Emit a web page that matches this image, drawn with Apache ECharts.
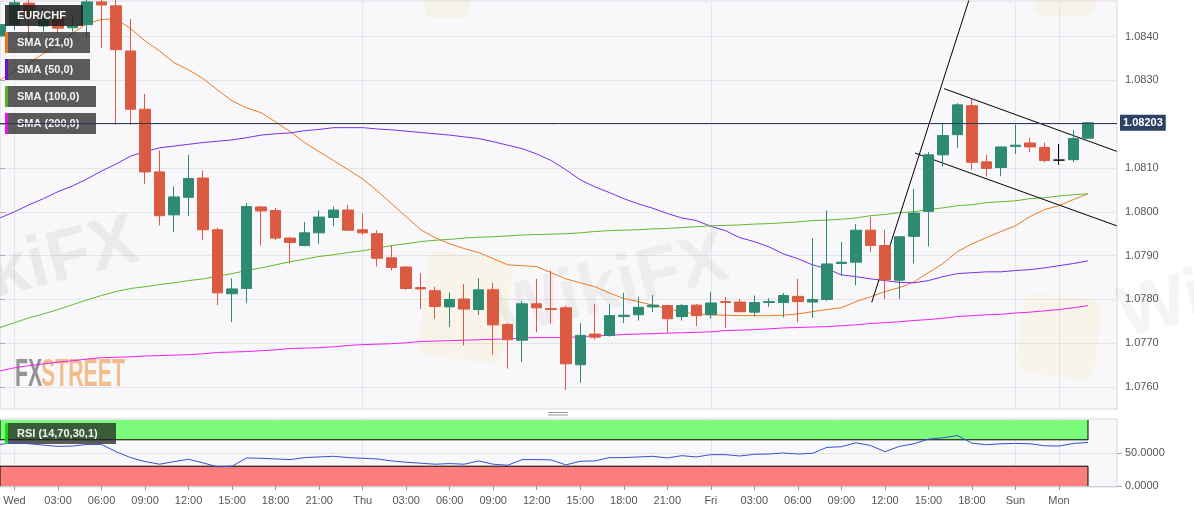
<!DOCTYPE html>
<html><head><meta charset="utf-8">
<script src="https://cdn.jsdelivr.net/npm/echarts@6/dist/echarts.min.js"></script>
<style>html,body{margin:0;padding:0;background:#fff}#c{width:1194px;height:513px}</style>
</head><body><div id="c"></div>
<script>
// ---------- DATA ----------
const categories = ['Tue 23:00',
'Wed 00:00','Wed 01:00','Wed 02:00','Wed 03:00','Wed 04:00','Wed 05:00','Wed 06:00','Wed 07:00','Wed 08:00','Wed 09:00','Wed 10:00','Wed 11:00',
'Wed 12:00','Wed 13:00','Wed 14:00','Wed 15:00','Wed 16:00','Wed 17:00','Wed 18:00','Wed 19:00','Wed 20:00','Wed 21:00','Wed 22:00','Wed 23:00',
'Thu 00:00','Thu 01:00','Thu 02:00','Thu 03:00','Thu 04:00','Thu 05:00','Thu 06:00','Thu 07:00','Thu 08:00','Thu 09:00','Thu 10:00','Thu 11:00',
'Thu 12:00','Thu 13:00','Thu 14:00','Thu 15:00','Thu 16:00','Thu 17:00','Thu 18:00','Thu 19:00','Thu 20:00','Thu 21:00','Thu 22:00','Thu 23:00',
'Fri 00:00','Fri 01:00','Fri 02:00','Fri 03:00','Fri 04:00','Fri 05:00','Fri 06:00','Fri 07:00','Fri 08:00','Fri 09:00','Fri 10:00','Fri 11:00',
'Fri 12:00','Fri 13:00','Fri 14:00','Fri 15:00','Fri 16:00','Fri 17:00','Fri 18:00','Fri 19:00','Fri 20:00',
'Sun 21:00','Sun 22:00','Sun 23:00','Mon 00:00','Mon 01:00','Mon 02:00','Mon 03:00','Mon 04:00'];

const xTickLabels = [[1,'Wed'],[4,'03:00'],[7,'06:00'],[10,'09:00'],[13,'12:00'],[16,'15:00'],[19,'18:00'],[22,'21:00'],
[25,'Thu'],[28,'03:00'],[31,'06:00'],[34,'09:00'],[37,'12:00'],[40,'15:00'],[43,'18:00'],[46,'21:00'],
[49,'Fri'],[52,'03:00'],[55,'06:00'],[58,'09:00'],[61,'12:00'],[64,'15:00'],[67,'18:00'],[70,'Sun'],[73,'Mon']];
const dayGridIdx = [1, 25, 49, 70, 73];

const yTicks = [1.0760, 1.0770, 1.0780, 1.0790, 1.0800, 1.0810, 1.0820, 1.0830, 1.0840];
const rsiTicks = [0, 50];

// [open, high, low, close]
const candles = [
[1.08402,1.08434,1.08392,1.08427],[1.08427,1.08484,1.08415,1.08477],[1.08476,1.08486,1.08388,1.08445],[1.08424,1.08449,1.08411,1.08438],
[1.08442,1.08449,1.08408,1.08419],[1.08420,1.08445,1.08411,1.08424],[1.08427,1.08488,1.08399,1.08479],[1.08479,1.08490,1.08374,1.08472],
[1.08470,1.08486,1.08199,1.08370],[1.08367,1.08440,1.08199,1.08234],[1.08234,1.08269,1.08064,1.08091],[1.08091,1.08140,1.07969,1.07991],
[1.07993,1.08058,1.07954,1.08034],[1.08033,1.08130,1.07990,1.08076],[1.08077,1.08094,1.07935,1.07959],[1.07959,1.07964,1.07787,1.07815],
[1.07813,1.07848,1.07748,1.07824],[1.07825,1.08020,1.07792,1.08012],[1.08011,1.08014,1.07923,1.08002],[1.08003,1.08009,1.07935,1.07940],
[1.07940,1.07943,1.07882,1.07930],[1.07923,1.07977,1.07921,1.07952],[1.07952,1.08003,1.07927,1.07988],[1.07987,1.08012,1.07967,1.08004],
[1.08004,1.08016,1.07957,1.07958],[1.07959,1.07996,1.07947,1.07952],[1.07950,1.07958,1.07875,1.07894],[1.07895,1.07923,1.07866,1.07873],
[1.07874,1.07876,1.07822,1.07825],[1.07827,1.07860,1.07778,1.07824],[1.07820,1.07829,1.07756,1.07784],[1.07783,1.07816,1.07737,1.07800],
[1.07801,1.07835,1.07695,1.07778],[1.07777,1.07849,1.07765,1.07822],[1.07822,1.07838,1.07674,1.07742],[1.07743,1.07746,1.07642,1.07708],
[1.07707,1.07796,1.07657,1.07790],[1.07790,1.07847,1.07725,1.07781],[1.07779,1.07866,1.07745,1.07777],[1.07781,1.07786,1.07593,1.07653],
[1.07651,1.07746,1.07610,1.07718],[1.07721,1.07790,1.07708,1.07714],[1.07718,1.07790,1.07715,1.07763],[1.07761,1.07815,1.07746,1.07764],
[1.07765,1.07806,1.07752,1.07782],[1.07783,1.07810,1.07771,1.07787],[1.07786,1.07788,1.07724,1.07756],[1.07761,1.07790,1.07752,1.07786],
[1.07787,1.07790,1.07739,1.07763],[1.07765,1.07817,1.07756,1.07792],[1.07795,1.07806,1.07735,1.07793],[1.07794,1.07801,1.07771,1.07772],
[1.07771,1.07809,1.07761,1.07793],[1.07793,1.07803,1.07783,1.07795],[1.07793,1.07815,1.07759,1.07809],[1.07807,1.07847,1.07748,1.07795],
[1.07794,1.07940,1.07758,1.07800],[1.07800,1.08003,1.07796,1.07881],[1.07882,1.07931,1.07854,1.07885],[1.07885,1.07972,1.07832,1.07958],
[1.07958,1.07988,1.07908,1.07923],[1.07923,1.07959,1.07801,1.07845],[1.07844,1.07945,1.07801,1.07943],[1.07944,1.08052,1.07882,1.07997],
[1.08001,1.08137,1.07921,1.08130],[1.08130,1.08201,1.08104,1.08174],[1.08176,1.08248,1.08146,1.08244],[1.08242,1.08258,1.08096,1.08113],
[1.08114,1.08130,1.08081,1.08099],[1.08101,1.08149,1.08081,1.08148],[1.08149,1.08199,1.08132,1.08152],[1.08157,1.08169,1.08136,1.08148],
[1.08147,1.08158,1.08113,1.08117],[1.08118,1.08155,1.08107,1.08118],[1.08119,1.08186,1.08113,1.08167],[1.08168,1.08204,1.08166,1.08203]
];

const sma21 = [1.08301,1.08320,1.08340,1.08361,1.08383,1.08408,1.08429,1.08439,1.08440,1.08418,
1.08390,1.08367,1.08340,1.08324,1.08304,1.08278,1.08253,1.08237,1.08226,1.08205,
1.08183,1.08158,1.08137,1.08117,1.08096,1.08075,1.08048,1.08018,1.07989,1.07959,
1.07941,1.07927,1.07916,1.07907,1.07893,1.07879,1.07877,1.07875,1.07861,1.07847,
1.07838,1.07829,1.07815,1.07802,1.07795,1.07787,1.07779,1.07771,1.07767,1.07765,
1.07764,1.07763,1.07763,1.07763,1.07764,1.07767,1.07772,1.07777,1.07781,1.07795,
1.07806,1.07818,1.07827,1.07840,1.07861,1.07882,1.07909,1.07927,1.07941,1.07955,
1.07968,1.07989,1.08005,1.08014,1.08028,1.08041];

const sma50 = [1.07986,1.08000,1.08016,1.08030,1.08046,1.08059,1.08075,1.08093,1.08109,1.08127,
1.08137,1.08146,1.08150,1.08154,1.08158,1.08161,1.08164,1.08169,1.08175,1.08178,
1.08180,1.08185,1.08188,1.08192,1.08192,1.08192,1.08189,1.08187,1.08184,1.08181,
1.08178,1.08175,1.08171,1.08167,1.08160,1.08152,1.08144,1.08132,1.08117,1.08096,
1.08073,1.08057,1.08044,1.08030,1.08018,1.08008,1.07996,1.07986,1.07980,1.07967,
1.07957,1.07941,1.07932,1.07920,1.07904,1.07893,1.07879,1.07870,1.07856,1.07852,
1.07847,1.07843,1.07839,1.07838,1.07843,1.07852,1.07859,1.07861,1.07863,1.07863,
1.07866,1.07868,1.07872,1.07877,1.07882,1.07888];

const sma100 = [1.07736,1.07747,1.07758,1.07767,1.07777,1.07788,1.07799,1.07809,1.07818,1.07825,
1.07829,1.07834,1.07838,1.07843,1.07847,1.07853,1.07859,1.07866,1.07872,1.07879,
1.07886,1.07892,1.07898,1.07902,1.07907,1.07911,1.07917,1.07923,1.07927,1.07932,
1.07935,1.07937,1.07940,1.07942,1.07943,1.07945,1.07947,1.07948,1.07949,1.07950,
1.07952,1.07955,1.07957,1.07958,1.07959,1.07961,1.07962,1.07964,1.07966,1.07968,
1.07969,1.07970,1.07972,1.07973,1.07975,1.07977,1.07980,1.07981,1.07983,1.07986,
1.07991,1.07994,1.07998,1.08000,1.08005,1.08009,1.08014,1.08016,1.08021,1.08023,
1.08025,1.08030,1.08032,1.08036,1.08039,1.08041];

const sma200 = [1.07637,1.07644,1.07649,1.07653,1.07657,1.07660,1.07664,1.07667,1.07668,1.07669,
1.07671,1.07672,1.07673,1.07674,1.07676,1.07679,1.07680,1.07681,1.07683,1.07685,
1.07688,1.07689,1.07690,1.07692,1.07695,1.07697,1.07698,1.07699,1.07701,1.07704,
1.07705,1.07706,1.07707,1.07708,1.07709,1.07710,1.07712,1.07713,1.07713,1.07713,
1.07715,1.07717,1.07718,1.07720,1.07721,1.07722,1.07723,1.07724,1.07725,1.07726,
1.07729,1.07730,1.07731,1.07733,1.07735,1.07736,1.07737,1.07738,1.07740,1.07742,
1.07745,1.07747,1.07749,1.07752,1.07754,1.07757,1.07761,1.07763,1.07765,1.07766,
1.07769,1.07771,1.07774,1.07777,1.07781,1.07786];

const rsi = [63,66,64,62,60,60.5,63,63,52,43,37,33,37,40.5,35,29,30,42.5,42,41,
40,43,44,45,43,42,41,38,36,34.5,33,34,33,38,33,31.5,40,40,39.5,32,
37.5,38,43,43,44,45,42.5,46,44,47.5,47.5,45.5,48,48.5,50,48.5,49.5,58.5,59.5,65.5,
61.5,52,60,64,71,73,76.5,65,62.5,64,64.5,64,61,60.5,64.5,66];
const rsiUpper = 70, rsiLower = 30, rsiMax = 100, rsiMin = 0;

// hand-drawn trend lines: [category position, price]
const trendSteep = [[60.09,1.07793],[67.21,1.08526]];
const channelTop = [[65.08,1.08281],[76.98,1.08138]];
const channelBottom = [[63.08,1.08134],[76.98,1.07968]];

// ---------- CHART ----------
const UP = '#2e8a72', DOWN = '#db5a42';
const FONT = '"Liberation Sans", Arial, sans-serif';
const tickMap = {}; xTickLabels.forEach(([k,l]) => { tickMap[k] = l; });
const daySet = new Set(dayGridIdx);
const lastIdx = candles.length - 1;
const lastClose = candles[lastIdx][3];
const PLOT_W = 1117;

const candleData = candles.map(([o,h,l,c]) => o === c
  ? {value:[o,c,l,h], itemStyle:{color:'#000',color0:'#000',borderColor:'#000',borderColor0:'#000'}}
  : [o,c,l,h]);
const idx = (arr) => arr.map((v,i) => [i, v]);

const grey = '#e4e4ea';
const chart = echarts.init(document.getElementById('c'));

function legendBox(y, w, label, barColor, fill){
  const els = [
    {type:'rect', z:3, shape:{x:5, y:y, width:w, height:21}, style:{fill:fill}},
    {type:'text', z:4, style:{x:17, y:y+10.5, text:label, fill:'#f2f2f2', font:'bold 11px '+FONT, verticalAlign:'middle'}}
  ];
  if (barColor) els.push({type:'rect', z:4, shape:{x:5, y:y, width:3, height:21}, style:{fill:barColor}});
  return els;
}

const graphics = [].concat(
  legendBox(5, 78, 'EUR/CHF', null, 'rgba(30,30,30,0.86)'),
  legendBox(32, 85, 'SMA (21,0)', '#e8771f', 'rgba(45,45,45,0.78)'),
  legendBox(59, 85, 'SMA (50,0)', '#6611cc', 'rgba(45,45,45,0.78)'),
  legendBox(86, 91, 'SMA (100,0)', '#55b022', 'rgba(45,45,45,0.78)'),
  legendBox(113, 91, 'SMA (200,0)', '#ee11ee', 'rgba(45,45,45,0.78)'),
  [
    {type:'rect', z:3, shape:{x:5, y:423, width:111, height:21}, style:{fill:'rgba(30,30,30,0.72)'}},
    {type:'rect', z:4, shape:{x:5, y:423, width:3, height:21}, style:{fill:'#16d916'}},
    {type:'text', z:4, style:{x:17, y:433.5, text:'RSI (14,70,30,1)', fill:'#f2f2f2', font:'bold 11px '+FONT, verticalAlign:'middle'}},
    // FXStreet watermark
    {type:'text', z:1, x:15, y:376, scaleX:0.56, style:{x:0, y:0, text:'FX', fill:'rgba(130,130,130,0.85)', font:'bold 38px '+FONT, verticalAlign:'middle'}},
    {type:'text', z:1, x:41, y:376, scaleX:0.56, style:{x:0, y:0, text:'STREET', fill:'rgba(240,170,100,0.75)', font:'bold 38px '+FONT, verticalAlign:'middle'}},
    // WikiFX watermarks
    {type:'text', z:1, x:-95, y:300, rotation:0.25, style:{x:0, y:0, text:'WikiFX', fill:'rgba(120,110,110,0.10)', font:'bold 72px '+FONT, verticalAlign:'middle'}},
    {type:'text', z:1, x:495, y:318, rotation:0.25, style:{x:0, y:0, text:'WikiFX', fill:'rgba(120,110,110,0.08)', font:'bold 72px '+FONT, verticalAlign:'middle'}},
    {type:'rect', z:1, x:430, y:250, rotation:-0.12, shape:{x:0, y:0, width:85, height:105, r:12}, style:{fill:'rgba(245,215,120,0.13)'}},
    {type:'rect', z:1, x:1025, y:292, rotation:-0.12, shape:{x:0, y:0, width:78, height:80, r:12}, style:{fill:'rgba(245,215,120,0.13)'}},
    {type:'text', z:1, x:1120, y:318, rotation:0.25, style:{x:0, y:0, text:'Wi', fill:'rgba(120,110,110,0.08)', font:'bold 72px '+FONT, verticalAlign:'middle'}},
    {type:'rect', z:1, x:425, y:-20, shape:{x:0, y:0, width:45, height:38, r:8}, style:{fill:'rgba(245,215,120,0.12)'}},
    {type:'rect', z:1, x:1035, y:-20, shape:{x:0, y:0, width:60, height:36, r:8}, style:{fill:'rgba(245,215,120,0.12)'}},
    // splitter handle
    {type:'line', z:4, shape:{x1:548, y1:412.5, x2:568, y2:412.5}, style:{stroke:'#9a9a9a', lineWidth:1}},
    {type:'line', z:4, shape:{x1:548, y1:415, x2:568, y2:415}, style:{stroke:'#9a9a9a', lineWidth:1}}
  ]
);

const smaSeries = (name, data, color) => ({
  type:'line', name, data, xAxisIndex:0, yAxisIndex:0, symbol:'none', silent:true, z:2,
  lineStyle:{color, width:1}
});
const trendSeries = (data, extra) => Object.assign({
  type:'line', data, xAxisIndex:2, yAxisIndex:0, symbol:'none', silent:true, z:2,
  lineStyle:{color:'#000', width:1}
}, extra || {});

const option = {
  animation:false,
  backgroundColor:'#ffffff',
  textStyle:{fontFamily:FONT},
  grid:[
    {left:0, top:1, width:PLOT_W, height:408, show:true, backgroundColor:'#f8f8fa', borderColor:'#d6d6df', borderWidth:1},
    {left:0, top:419, width:PLOT_W, height:68, show:true, backgroundColor:'#f8f8fa', borderColor:'#d6d6df', borderWidth:1}
  ],
  xAxis:[
    {type:'category', gridIndex:0, data:categories, boundaryGap:false,
     axisLine:{show:false}, axisTick:{show:false}, axisLabel:{show:false},
     splitLine:{show:true, interval:(i)=>daySet.has(i), lineStyle:{color:grey}}},
    {type:'category', gridIndex:1, data:categories, boundaryGap:false,
     axisLine:{show:true, lineStyle:{color:'#cfcfd8'}},
     axisTick:{show:true, interval:(i)=>tickMap[i]!==undefined, length:4, lineStyle:{color:'#999'}},
     axisLabel:{show:true, interval:(i)=>tickMap[i]!==undefined, formatter:(v,i)=>tickMap[i]||'', color:'#555', fontSize:11, margin:8},
     splitLine:{show:true, interval:(i)=>daySet.has(i), lineStyle:{color:grey}}},
    {type:'value', gridIndex:0, min:0, max:categories.length-1, show:false}
  ],
  yAxis:[
    {type:'value', gridIndex:0, position:'right', min:1.0755, max:1.08481,
     axisLine:{show:false},
     axisTick:{show:true, length:5, lineStyle:{color:'#aaa'}, customValues:yTicks},
     axisLabel:{color:'#555', fontSize:11, margin:8, formatter:(v)=>v.toFixed(4), customValues:yTicks},
     splitLine:{show:true, lineStyle:{color:grey}}},
    {type:'value', gridIndex:1, position:'right', min:-1.5, max:101.5,
     axisLine:{show:false},
     axisTick:{show:true, length:5, lineStyle:{color:'#aaa'}, customValues:rsiTicks},
     axisLabel:{color:'#555', fontSize:11, margin:8, formatter:(v)=>v.toFixed(4), customValues:rsiTicks},
     splitLine:{show:true, lineStyle:{color:grey}}}
  ],
  graphic: graphics,
  series:[
    {type:'candlestick', name:'EUR/CHF', data:candleData, xAxisIndex:0, yAxisIndex:0, barWidth:11, z:2, silent:true,
     itemStyle:{color:UP, color0:DOWN, borderColor:UP, borderColor0:DOWN, borderWidth:1},
     markLine:{symbol:'none', silent:true, z:5, animation:false, precision:5,
       data:[{yAxis:lastClose}],
       lineStyle:{color:'#2b3b58', width:1, type:'solid'},
       label:{show:true, position:'end', formatter:lastClose.toFixed(5), backgroundColor:'#2c4163', color:'#fff',
              fontWeight:'bold', fontSize:11, padding:[3,3,2,3], distance:3, fontFamily:FONT}}},
    smaSeries('SMA (21,0)', sma21, '#ee7a1e'),
    smaSeries('SMA (50,0)', sma50, '#7a2ee8'),
    smaSeries('SMA (100,0)', sma100, '#62b92a'),
    smaSeries('SMA (200,0)', sma200, '#f01ff0'),
    trendSeries(trendSteep),
    trendSeries(channelTop),
    trendSeries(channelBottom),
    // RSI bands (fill + outline)
    {type:'line', xAxisIndex:1, yAxisIndex:1, symbol:'none', silent:true, z:1,
     data:[[0,rsiMax],[0,rsiUpper],[lastIdx,rsiUpper],[lastIdx,rsiMax]],
     lineStyle:{color:'#000', width:1},
     markArea:{silent:true, data:[
       [{xAxis:categories[0], yAxis:rsiUpper, itemStyle:{color:'#7dfb7a'}}, {xAxis:categories[lastIdx], yAxis:rsiMax}],
       [{xAxis:categories[0], yAxis:rsiMin, itemStyle:{color:'#fb7d7d'}}, {xAxis:categories[lastIdx], yAxis:rsiLower}]
     ]}},
    {type:'line', xAxisIndex:1, yAxisIndex:1, symbol:'none', silent:true, z:1,
     data:[[0,rsiMin],[0,rsiLower],[lastIdx,rsiLower],[lastIdx,rsiMin]],
     lineStyle:{color:'#000', width:1}},
    {type:'line', name:'RSI', data:idx(rsi), xAxisIndex:1, yAxisIndex:1, symbol:'none', silent:true, z:3,
     lineStyle:{color:'#3152cf', width:1}}
  ]
};
chart.setOption(option);
</script>
</body></html>
